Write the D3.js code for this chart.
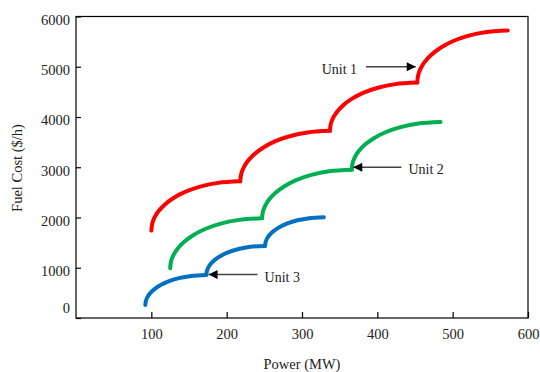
<!DOCTYPE html>
<html>
<head>
<meta charset="utf-8">
<script src="https://cdn.jsdelivr.net/npm/d3@7"></script>
<style>
  body { margin: 0; background: #fff; }
  svg text { font-family: "Liberation Serif", "Times New Roman", serif; fill: #222; }
</style>
</head>
<body>
<div id="chart"></div>
<script>
// Fuel cost curves (valve-point steps): [MW, $/h]
const unit1Segments = [
  [[100,1740],[101.2,1878],[104.1,1997],[109.4,2124],[117.7,2256],[129.5,2388],[144.8,2509],[164.9,2615],[188.5,2689],[218,2720]],
  [[218,2720],[219.2,2862],[222.2,2983],[227.5,3114],[235.9,3250],[247.8,3384],[263.2,3509],[283.5,3617],[307.3,3693],[337,3725]],
  [[337,3725],[338.2,3860],[341.1,3977],[346.3,4101],[354.4,4231],[366,4360],[381.1,4479],[400.8,4582],[424,4654],[453,4685]],
  [[453,4685],[454.2,4831],[457.2,4956],[462.6,5091],[471,5230],[483,5369],[498.6,5497],[519,5609],[543,5687],[573,5720]]
];
const unit2Segments = [
  [[125,990],[126.2,1130],[129.3,1251],[134.8,1380],[143.3,1514],[155.5,1648],[171.4,1771],[192.1,1879],[216.5,1953],[247,1985]],
  [[247,1985],[248.2,2121],[251.2,2238],[256.5,2363],[264.9,2494],[276.8,2623],[292.2,2743],[312.5,2847],[336.3,2919],[366,2950]],
  [[366,2950],[367.2,3084],[370.1,3199],[375.4,3322],[383.7,3451],[395.5,3578],[410.8,3696],[430.9,3798],[454.5,3870],[484,3900]]
];
const unit3Segments = [
  [[92,260],[92.8,344],[94.8,416],[98.5,494],[104.2,575],[112.3,655],[122.8,729],[136.6,793],[152.8,838],[173,857]],
  [[173,857],[173.8,938],[175.7,1008],[179.2,1084],[184.7,1162],[192.5,1239],[202.6,1311],[215.9,1373],[231.5,1417],[251,1435]],
  [[251,1435],[251.8,1515],[253.7,1584],[257.2,1658],[262.7,1735],[270.5,1812],[280.6,1882],[293.9,1944],[309.5,1987],[329,2005]]
];
const seriesNames = ['Unit 1', 'Unit 2', 'Unit 3'];
const seriesColors = ['#ff0000', '#00b050', '#0070c0'];

const xTicks = [100, 200, 300, 400, 500, 600];
const yTicks = [0, 1000, 2000, 3000, 4000, 5000, 6000];

// annotation arrows: tail and tip in data units
const labelText = ['Unit 1', 'Unit 2', 'Unit 3'];
const labelTail = [[385, 5000], [432, 3000], [241, 865]];
const labelTip = [[451, 5000], [368, 3000], [176, 865]];
const labelSide = ['left', 'right', 'right'];

const width = 540, height = 372;
const margin = { top: 16.5, right: 12, bottom: 54, left: 76 };

const svg = d3.select('#chart').append('svg')
  .attr('width', width)
  .attr('height', height);

const x = d3.scaleLinear().domain([0, 600]).range([margin.left, width - margin.right]);
const y = d3.scaleLinear().domain([0, 6000]).range([height - margin.bottom, margin.top]);

// arrowhead
svg.append('defs').append('marker')
  .attr('id', 'arrow')
  .attr('viewBox', '0 0 10 10')
  .attr('refX', 10)
  .attr('refY', 5)
  .attr('markerWidth', 13)
  .attr('markerHeight', 9)
  .attr('markerUnits', 'userSpaceOnUse')
  .attr('orient', 'auto')
  .append('path')
  .attr('d', 'M0,0 L10,5 L0,10 Z')
  .attr('fill', '#000');

// frame
svg.append('rect')
  .attr('x', x(0))
  .attr('y', y(6000))
  .attr('width', x(600) - x(0))
  .attr('height', y(0) - y(6000))
  .attr('fill', 'none')
  .attr('stroke', '#000')
  .attr('stroke-width', 1.2);

// x axis (ticks point inward)
const xAxis = svg.append('g')
  .attr('transform', `translate(0,${y(0)})`)
  .call(d3.axisBottom(x).tickValues(xTicks).tickFormat(d3.format('d'))
    .tickSizeInner(-6).tickSizeOuter(0).tickPadding(11))
  .attr('font-family', '"Liberation Serif", serif');
xAxis.select('.domain').remove();
xAxis.selectAll('line').attr('stroke', '#000').attr('stroke-width', 1.2);
xAxis.selectAll('text')
  .attr('font-size', '14.5px')
  .attr('fill', '#222');

// y axis (ticks point inward)
const yAxis = svg.append('g')
  .attr('transform', `translate(${x(0)},0)`)
  .call(d3.axisLeft(y).tickValues(yTicks).tickFormat(d3.format('d'))
    .tickSizeInner(-5).tickSizeOuter(0).tickPadding(6))
  .attr('font-family', '"Liberation Serif", serif');
yAxis.select('.domain').remove();
yAxis.selectAll('line').attr('stroke', '#000').attr('stroke-width', 1.2);
yAxis.selectAll('text')
  .attr('font-size', '14.5px')
  .attr('fill', '#222')
  .attr('dy', d => d === 0 ? '-0.35em' : '0.55em');

// axis titles
svg.append('text')
  .attr('x', (x(0) + x(600)) / 2)
  .attr('y', 369)
  .attr('text-anchor', 'middle')
  .attr('font-size', '14.5px')
  .text('Power (MW)');

svg.append('text')
  .attr('transform', `translate(22,${168}) rotate(-90)`)
  .attr('text-anchor', 'middle')
  .attr('font-size', '14.5px')
  .text('Fuel Cost ($/h)');

// curves
const line = d3.line()
  .x(d => x(d[0]))
  .y(d => y(d[1]))
  .curve(d3.curveCatmullRom.alpha(0.5));

[unit1Segments, unit2Segments, unit3Segments].forEach((segs, i) => {
  svg.append('g')
    .attr('class', 'unit')
    .selectAll('path')
    .data(segs)
    .enter()
    .append('path')
    .attr('d', line)
    .attr('fill', 'none')
    .attr('stroke', seriesColors[i])
    .attr('stroke-width', 4)
    .attr('stroke-linecap', 'round')
    .attr('stroke-linejoin', 'round');
});

// annotations
labelText.forEach((t, i) => {
  svg.append('line')
    .attr('x1', x(labelTail[i][0]))
    .attr('y1', y(labelTail[i][1]))
    .attr('x2', x(labelTip[i][0]))
    .attr('y2', y(labelTip[i][1]))
    .attr('stroke', '#444')
    .attr('stroke-width', 1.4)
    .attr('marker-end', 'url(#arrow)');

  const tx = labelSide[i] === 'left' ? x(labelTail[i][0]) - 9 : x(labelTail[i][0]) + 7;
  svg.append('text')
    .attr('x', tx)
    .attr('y', y(labelTail[i][1]) + 7)
    .attr('text-anchor', labelSide[i] === 'left' ? 'end' : 'start')
    .attr('font-size', '14px')
    .text(t);
});
</script>
</body>
</html>
